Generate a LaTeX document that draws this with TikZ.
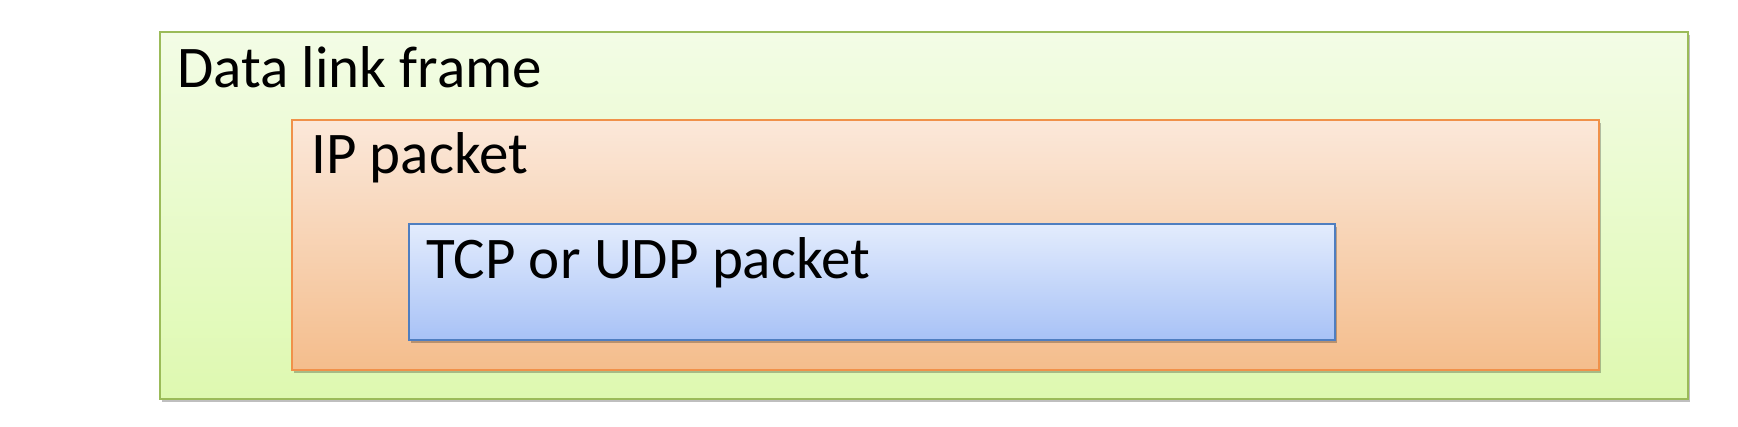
\documentclass[tikz,border=0pt]{standalone}
\usepackage{fontspec}
\setmainfont{Carlito}
\usetikzlibrary{shadows}
\definecolor{gTop}{HTML}{F3FCE6}
\definecolor{gBot}{HTML}{DEF9B0}
\definecolor{gLine}{HTML}{9BBB59}
\definecolor{oTop}{HTML}{FBE8DA}
\definecolor{oBot}{HTML}{F4BD8C}
\definecolor{oLine}{HTML}{F0914A}
\definecolor{bTop}{HTML}{E3ECFD}
\definecolor{bBot}{HTML}{A8C2F6}
\definecolor{bLine}{HTML}{4F7EC0}
\tikzset{
  layerbox/.style={rectangle, anchor=north west, inner sep=0pt, line width=1.6pt,
    drop shadow={shadow xshift=2.5pt, shadow yshift=-3.5pt, opacity=0.25, fill=black}},
  dlbox/.style={layerbox, draw=gLine, top color=gTop, bottom color=gBot},
  ipbox/.style={layerbox, draw=oLine, top color=oTop, bottom color=oBot},
  tcpbox/.style={layerbox, draw=bLine, top color=bTop, bottom color=bBot},
  lbl/.style={anchor=base west, inner sep=0pt, font=\fontsize{59}{60}\selectfont, text=black}
}
\begin{document}
\begin{tikzpicture}[x=1pt,y=-1pt]
\useasboundingbox (0,0) rectangle (1738,426);
\node[dlbox, minimum width=1528pt, minimum height=367pt] (dl) at (159,31) {};
\node[ipbox, minimum width=1307pt, minimum height=250pt] (ip) at (291,119) {};
\node[tcpbox, minimum width=926pt, minimum height=116pt] (tcp) at (408,223) {};
\node[lbl] (dlt) at (177,87) {Data link frame};
\node[lbl] (ipt) at (311,173) {IP packet};
\node[lbl] (tcpt) at (426,278) {TCP or UDP packet};
\end{tikzpicture}
\end{document}
